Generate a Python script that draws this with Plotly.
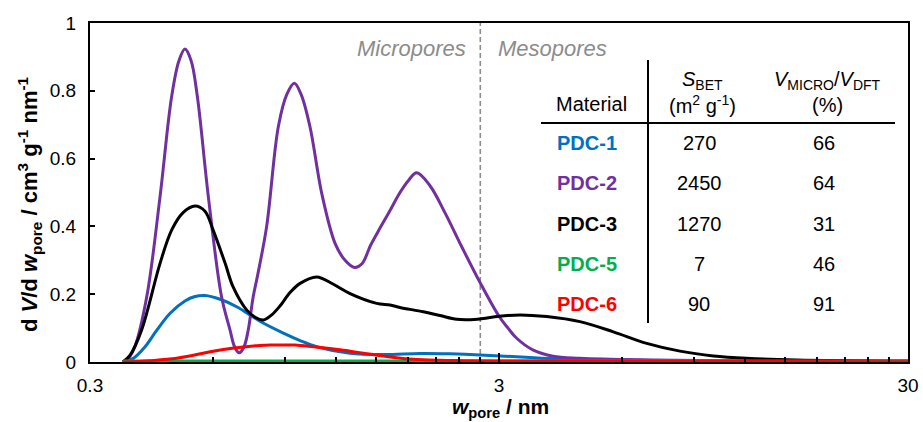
import plotly.graph_objects as go

# Pore width (nm) and dV/dw (cm3 g-1 nm-1) for each material
w_pdc1 = [0.361, 0.382, 0.409, 0.437, 0.471, 0.512, 0.542, 0.573, 0.624, 0.685, 0.738, 0.781,
          0.891, 0.979, 1.075, 1.297, 1.561, 1.923, 2.277, 2.695, 3.572, 4.23, 5.30, 9.29, 30]
v_pdc1 = [0, 0.01, 0.045, 0.094, 0.144, 0.18, 0.193, 0.196, 0.185, 0.163, 0.139, 0.12,
          0.085, 0.063, 0.045, 0.026, 0.022, 0.025, 0.024, 0.021, 0.013, 0.009, 0.006, 0.004, 0.002]

w_pdc2 = [0.361, 0.369, 0.386, 0.413, 0.445, 0.475, 0.495, 0.512, 0.530, 0.549, 0.584, 0.629,
          0.660, 0.677, 0.695, 0.714, 0.731, 0.752, 0.772, 0.811, 0.866, 0.909, 0.948, 0.984,
          1.035, 1.106, 1.192, 1.261, 1.329, 1.387, 1.457, 1.535, 1.624, 1.718, 1.800, 1.888,
          2.034, 2.214, 2.432, 2.695, 3.0, 3.156, 3.314, 3.639, 4.067, 4.73, 7.02, 12.3, 30]
v_pdc2 = [0, 0.005, 0.045, 0.193, 0.488, 0.783, 0.889, 0.923, 0.889, 0.783, 0.488, 0.193,
          0.094, 0.045, 0.027, 0.045, 0.094, 0.193, 0.26, 0.40, 0.694, 0.79, 0.822, 0.79,
          0.694, 0.497, 0.35, 0.30, 0.279, 0.29, 0.345, 0.395, 0.447, 0.50, 0.535, 0.558,
          0.52, 0.44, 0.34, 0.235, 0.135, 0.10, 0.07, 0.035, 0.017, 0.011, 0.006, 0.003, 0.001]

w_pdc3 = [0.361, 0.376, 0.401, 0.445, 0.475, 0.506, 0.542, 0.573, 0.600, 0.642, 0.671, 0.725,
          0.760, 0.796, 0.836, 0.874, 0.925, 0.979, 1.075, 1.178, 1.297, 1.507, 1.624, 1.718,
          1.959, 2.152, 2.365, 2.548, 2.695, 3.0, 3.375, 3.925, 4.73, 5.71, 6.89, 8.31,
          10.03, 12.10, 16.03, 30]
v_pdc3 = [0, 0.02, 0.094, 0.291, 0.389, 0.44, 0.46, 0.445, 0.389, 0.291, 0.222, 0.153,
          0.132, 0.124, 0.14, 0.165, 0.205, 0.232, 0.251, 0.23, 0.202, 0.173, 0.168, 0.161,
          0.148, 0.137, 0.126, 0.125, 0.127, 0.135, 0.139, 0.134, 0.119, 0.089, 0.055, 0.032,
          0.018, 0.011, 0.006, 0.003]

w_pdc5 = [0.361, 0.4, 0.5, 0.7, 1.0, 2.0, 3.0, 5.0, 10.0, 20.0, 30]
v_pdc5 = [0.003, 0.003, 0.003, 0.003, 0.003, 0.003, 0.003, 0.003, 0.003, 0.003, 0.003]

w_pdc6 = [0.361, 0.421, 0.489, 0.590, 0.660, 0.781, 0.842, 0.951, 1.055, 1.226, 1.398, 1.624,
          1.852, 2.152, 2.450, 3.0, 5.30, 30]
v_pdc6 = [0, 0.004, 0.011, 0.03, 0.04, 0.049, 0.05, 0.05, 0.045, 0.036, 0.026, 0.015,
          0.008, 0.005, 0.004, 0.003, 0.002, 0.001]

# Table contents
materials = ["PDC-1", "PDC-2", "PDC-3", "PDC-5", "PDC-6"]
colors = ["#0070C0", "#7030A0", "#000000", "#00B050", "#FF0000"]
s_bet = ["270", "2450", "1270", "7", "90"]
v_ratio = ["66", "64", "31", "46", "91"]

# Axis ticks and the micro/meso boundary
x_ticks = [0.3, 3, 30]
x_minor = [0.6, 0.9, 1.2, 1.5, 1.8, 2.1, 2.4, 2.7, 6, 9, 12, 15, 18, 21, 24, 27]
boundary = 2.7

FONT = "Liberation Sans, Arial, sans-serif"

series = [(w_pdc1, v_pdc1), (w_pdc2, v_pdc2), (w_pdc3, v_pdc3), (w_pdc5, v_pdc5), (w_pdc6, v_pdc6)]

fig = go.Figure()

fig.add_trace(go.Scatter(
    x=[boundary, boundary], y=[0, 1], mode="lines",
    line=dict(color="#8C8C8C", width=1.6, dash="5px,3px"),
    hoverinfo="skip", showlegend=False,
))

for name, color, (w, v) in zip(materials, colors, series):
    fig.add_trace(go.Scatter(
        x=w, y=v, mode="lines", name=name,
        line=dict(color=color, width=3, shape="spline", smoothing=1.0),
        showlegend=False,
    ))


def px(xp):
    return (xp - 90) / 818


def py(yp):
    return (362 - yp) / 339


annotations = [
    dict(text="<i>Micropores</i>", x=px(468), y=py(48), xanchor="right", yanchor="middle",
         font=dict(size=22, color="#8C8C8C", family=FONT)),
    dict(text="<i>Mesopores</i>", x=px(496), y=py(48), xanchor="left", yanchor="middle",
         font=dict(size=22, color="#8C8C8C", family=FONT)),
    dict(text="Material", x=px(591), y=py(104), xanchor="center", yanchor="middle",
         font=dict(size=20, color="black", family=FONT)),
    dict(text="<i>S</i><sub>BET</sub>", x=px(702), y=py(80), xanchor="center", yanchor="middle",
         font=dict(size=20, color="black", family=FONT)),
    dict(text="(m<sup>2</sup> g<sup>-1</sup>)", x=px(702), y=py(105), xanchor="center", yanchor="middle",
         font=dict(size=20, color="black", family=FONT)),
    dict(text="<i>V</i><sub>MICRO</sub>/<i>V</i><sub>DFT</sub>", x=px(827), y=py(80),
         xanchor="center", yanchor="middle", font=dict(size=20, color="black", family=FONT)),
    dict(text="(%)", x=px(827), y=py(105), xanchor="center", yanchor="middle",
         font=dict(size=20, color="black", family=FONT)),
    # axis titles
    dict(text="<b>d <i>V</i>/d <i>w</i><sub>pore</sub> / cm<sup>3</sup> g<sup>-1</sup> nm<sup>-1</sup></b>",
         x=px(29), y=py(204), xanchor="center", yanchor="middle", textangle=-90,
         font=dict(size=22, color="black", family=FONT)),
    dict(text="<b><i>w</i><sub>pore</sub> / nm</b>",
         x=px(500), y=py(422), xanchor="center", yanchor="bottom", borderpad=0,
         font=dict(size=21, color="black", family=FONT)),
]

row_y = [143, 183, 224, 264, 304]
for name, color, s, v, ry in zip(materials, colors, s_bet, v_ratio, row_y):
    annotations.append(dict(text=f"<b>{name}</b>", x=px(555), y=py(ry), xanchor="left", yanchor="middle",
                            font=dict(size=20, color=color, family=FONT)))
    annotations.append(dict(text=s, x=px(699), y=py(ry), xanchor="center", yanchor="middle",
                            font=dict(size=20, color="black", family=FONT)))
    annotations.append(dict(text=v, x=px(824), y=py(ry), xanchor="center", yanchor="middle",
                            font=dict(size=20, color="black", family=FONT)))

for a in annotations:
    a.update(xref="paper", yref="paper", showarrow=False)

shapes = [
    dict(type="line", xref="paper", yref="paper", x0=px(648), x1=px(648), y0=py(60), y1=py(323),
         line=dict(color="black", width=2)),
    dict(type="line", xref="paper", yref="paper", x0=px(541), x1=px(895), y0=py(123), y1=py(123),
         line=dict(color="black", width=2)),
]

fig.update_layout(
    width=923, height=422,
    margin=dict(l=90, r=15, t=23, b=60),
    paper_bgcolor="white", plot_bgcolor="white",
    font=dict(family=FONT, size=19, color="black"),
    annotations=annotations, shapes=shapes,
    showlegend=False,
    xaxis=dict(
        type="log", range=[-0.5229, 1.4771], automargin=False,
        tickvals=x_ticks, ticktext=["0.3", "3", "30"],
        ticks="inside", ticklen=9, tickwidth=1.8, tickcolor="black",
        minor=dict(tickvals=x_minor, ticks="inside", ticklen=5, tickwidth=1.8, tickcolor="black"),
        showline=True, linecolor="black", linewidth=2, mirror=True,
        showgrid=False, zeroline=False,
        tickfont=dict(size=19), ticklabelstandoff=5,
    ),
    yaxis=dict(
        range=[0, 1], dtick=0.2, tick0=0, automargin=False,
        ticks="inside", ticklen=5, tickwidth=1.8, tickcolor="black",
        showline=True, linecolor="black", linewidth=2, mirror=True,
        showgrid=False, zeroline=False,
        tickfont=dict(size=19), ticklabelstandoff=8,
    ),
)

fig.write_html("out.html")
